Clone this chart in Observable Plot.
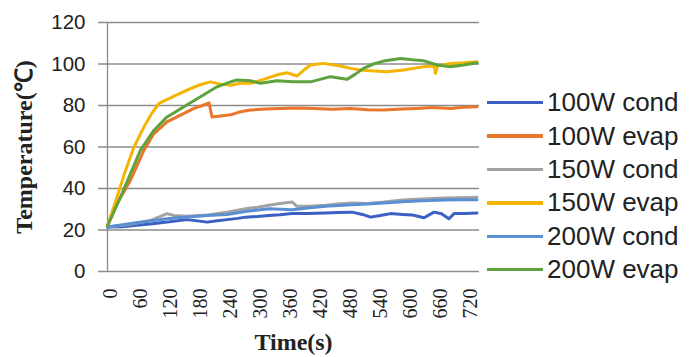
<!DOCTYPE html>
<html>
<head>
<meta charset="utf-8">
<script src="https://cdn.jsdelivr.net/npm/d3@7"></script>
<script src="https://cdn.jsdelivr.net/npm/@observablehq/plot@0.6"></script>
<style>
  html, body { margin: 0; padding: 0; background: #fff; }
  #wrap { position: relative; width: 692px; height: 357px; overflow: hidden; }
  #chart { position: absolute; left: 0; top: 0; }
  #legend { position: absolute; left: 487px; top: 86px; font-family: "Liberation Sans", Arial, sans-serif; font-size: 26px; color: #222; }
  .item { display: flex; align-items: center; height: 33.4px; white-space: nowrap; }
  .sw { width: 56px; height: 3.5px; margin-right: 4px; }
  svg g[aria-label="x-axis tick label"] text { font-family: "Liberation Serif", serif; }
  svg g[aria-label="x-axis label"] text, svg g[aria-label="y-axis label"] text { font-family: "Liberation Serif", serif; font-weight: bold; }
</style>
</head>
<body>
<div id="wrap"><div id="chart"></div><div id="legend"></div></div>
<script>
const seriesNames = ["100W cond", "100W evap", "150W cond", "150W evap", "200W cond", "200W evap"];
const seriesColors = ["#3b5fc2", "#e9762c", "#a3a3a3", "#f4b400", "#5a8fd2", "#5da23c"];

const xTicks = [0, 60, 120, 180, 240, 300, 360, 420, 480, 540, 600, 660, 720];
const yTicks = [0, 20, 40, 60, 80, 100, 120];

const cond100T = [0, 30, 53, 90, 119, 140, 159, 180, 199, 220, 239, 260, 276, 300, 323, 345, 369, 400, 436, 460, 489, 510, 526, 546, 566, 590, 610, 633, 653, 668, 683, 693, 715, 739];
const cond100V = [21.4, 21.6, 22.2, 23, 23.8, 24.5, 25, 24.4, 23.8, 24.5, 25, 25.6, 26.2, 26.5, 27, 27.3, 27.9, 28, 28.2, 28.4, 28.6, 27.5, 26.2, 27, 27.9, 27.5, 27.2, 25.9, 28.6, 27.8, 25.4, 27.9, 28, 28.2];

const evap100T = [0, 20, 46, 73, 93, 119, 146, 173, 190, 203, 209, 226, 246, 266, 286, 316, 346, 380, 412, 450, 486, 520, 552, 590, 619, 650, 686, 712, 739];
const evap100V = [22, 33, 44, 58.5, 66.5, 72.1, 75.4, 78.6, 80, 81.3, 74.5, 74.9, 75.5, 77, 77.8, 78.3, 78.6, 78.8, 78.6, 78.2, 78.6, 78, 77.8, 78.3, 78.6, 79, 78.6, 79.2, 79.4];

const cond150T = [0, 40, 86, 105, 119, 133, 159, 200, 239, 276, 300, 323, 345, 369, 379, 400, 436, 460, 489, 520, 553, 590, 619, 650, 673, 700, 739];
const cond150V = [21.4, 22.5, 24.6, 26.5, 27.9, 27, 26.6, 27.2, 28.6, 30.2, 31, 31.9, 32.8, 33.5, 31.4, 31.5, 31.9, 32.5, 33, 32.8, 33.5, 34.5, 34.8, 35.2, 35.4, 35.5, 35.8];

const evap150T = [0, 19, 35, 53, 73, 88, 103, 129, 159, 185, 206, 226, 246, 266, 286, 312, 340, 359, 379, 395, 406, 432, 466, 486, 506, 526, 559, 592, 632, 653, 656, 660, 686, 712, 739];
const evap150V = [22, 35.9, 48, 60, 69.7, 76, 81, 84, 87.4, 90, 91.4, 90.3, 89.8, 90.7, 90.7, 92.6, 94.8, 95.8, 94.2, 97.5, 99.5, 100.3, 99, 97.9, 97.1, 96.8, 96.3, 97.1, 98.7, 99, 95.5, 99, 100.3, 100.6, 101.1];

const cond200T = [0, 53, 90, 119, 159, 200, 239, 276, 323, 369, 400, 436, 489, 520, 553, 590, 619, 673, 700, 739];
const cond200V = [21.4, 23.4, 24.5, 25.4, 26.3, 27, 27.5, 28.9, 30.2, 29.8, 30.6, 31.4, 32.2, 32.5, 33, 33.6, 34, 34.5, 34.6, 34.6];

const evap200T = [0, 26, 66, 93, 119, 153, 186, 219, 246, 259, 286, 306, 339, 370, 406, 446, 479, 495, 512, 532, 552, 586, 610, 632, 659, 686, 712, 739];
const evap200V = [22, 35.9, 58.5, 68.1, 74.5, 79.4, 84.2, 89, 91.4, 92.3, 91.9, 90.7, 91.9, 91.5, 91.4, 93.9, 92.6, 95, 97.9, 100, 101.4, 102.7, 102, 101.6, 99.5, 98.7, 99.5, 100.6];

const seriesTimes = [cond100T, evap100T, cond150T, evap150T, cond200T, evap200T];
const seriesVals = [cond100V, evap100V, cond150V, evap150V, cond200V, evap200V];

const rows = [];
seriesNames.forEach((name, i) => {
  seriesTimes[i].forEach((t, j) => rows.push({series: name, t, v: seriesVals[i][j]}));
});

const gridColor = "#8c8c8c";

const chart = Plot.plot({
  width: 485,
  height: 357,
  marginLeft: 107,
  marginRight: 6,
  marginTop: 22,
  marginBottom: 86,
  x: {domain: [0, 744]},
  y: {domain: [0, 120]},
  color: {domain: seriesNames, range: seriesColors},
  style: {fontFamily: "Liberation Sans, Arial, sans-serif", fontSize: "20px", color: "#222", background: "white"},
  marks: [
    Plot.ruleY(yTicks, {stroke: gridColor, strokeWidth: 1.3, insetLeft: -9}),
    Plot.ruleX([0], {stroke: gridColor, strokeWidth: 1.3}),
    Plot.axisY({ticks: yTicks, tickSize: 0, tickPadding: 22, fontSize: 20.5, label: "Temperature(℃)", labelAnchor: "center", labelArrow: "none", labelOffset: 93}),
    Plot.axisX({ticks: xTicks, tickSize: 0, tickPadding: 17, tickRotate: -90, fontSize: 20, dx: 3, label: "Time(s)", labelAnchor: "center", labelArrow: "none", labelOffset: 78}),
    Plot.line(rows, {x: "t", y: "v", z: "series", stroke: "series", strokeWidth: 3, curve: "linear"})
  ]
});
document.getElementById("chart").appendChild(chart);

const leg = document.getElementById("legend");
seriesNames.forEach((name, i) => {
  const it = document.createElement("div");
  it.className = "item";
  const sw = document.createElement("div");
  sw.className = "sw";
  sw.style.background = seriesColors[i];
  const tx = document.createElement("span");
  tx.textContent = name;
  it.appendChild(sw);
  it.appendChild(tx);
  leg.appendChild(it);
});

chart.querySelectorAll('g[aria-label="x-axis label"] text').forEach(t => t.setAttribute("font-size", 24));
chart.querySelectorAll('g[aria-label="y-axis label"] text').forEach(t => t.setAttribute("font-size", 24));
</script>
</body>
</html>
